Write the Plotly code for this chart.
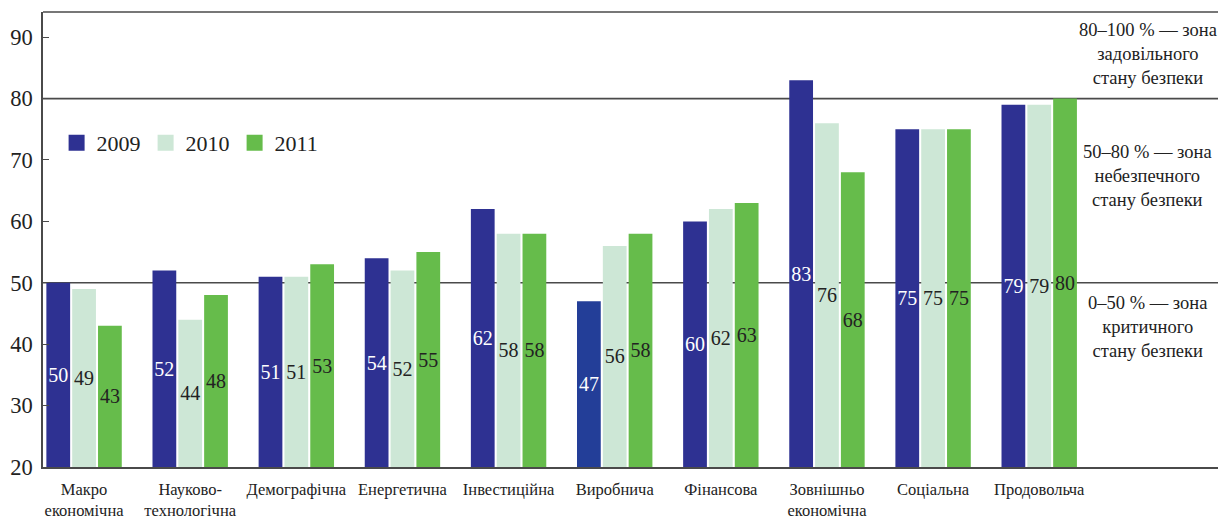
import plotly.graph_objects as go

categories = ["Макро<br>економічна", "Науково-<br>технологічна", "Демографічна", "Енергетична",
              "Інвестиційна", "Виробнича", "Фінансова", "Зовнішньо<br>економічна",
              "Соціальна", "Продовольча"]
years = ["2009", "2010", "2011"]
v2009 = [50, 52, 51, 54, 62, 47, 60, 83, 75, 79]
v2010 = [49, 44, 51, 52, 58, 56, 62, 76, 75, 79]
v2011 = [43, 48, 53, 55, 58, 58, 63, 68, 75, 80]
y_ticks = [20, 30, 40, 50, 60, 70, 80, 90]
zone_lines = [50, 80]
zone_texts = ["80–100 % — зона<br>задовільного<br>стану безпеки",
              "50–80 % — зона<br>небезпечного<br>стану безпеки",
              "0–50 % — зона<br>критичного<br>стану безпеки"]

FONT = "Liberation Serif"
c2009 = ["#2e3192"] * 10
c2009[5] = "#233e98"
colors = [c2009, "#cde7d6", "#66bc4b"]
legend_colors = ["#2e3192", "#cde7d6", "#66bc4b"]
text_colors = ["white", "#222222", "#222222"]

fig = go.Figure()
for yr, vals, col, tc in zip(years, [v2009, v2010, v2011], colors, text_colors):
    fig.add_trace(go.Bar(
        name=yr, x=list(range(len(categories))), y=[v - 20 for v in vals], base=20,
        marker=dict(color=col, line=dict(width=0)),
        text=[str(v) for v in vals], textposition="inside", insidetextanchor="middle",
        textangle=0, constraintext="none",
        textfont=dict(family=FONT, size=20, color=tc),
        hoverinfo="skip", showlegend=False,
    ))
# legend entries with larger square swatches
for yr, lc in zip(years, legend_colors):
    fig.add_trace(go.Scatter(
        name=yr, x=[None], y=[None], mode="markers",
        marker=dict(symbol="square", size=16, color=lc, line=dict(width=0)),
        hoverinfo="skip", showlegend=True,
    ))

shapes = []
for yv in zone_lines:
    shapes.append(dict(type="line", xref="paper", yref="y", x0=0, x1=1, y0=yv, y1=yv,
                       line=dict(color="#4a4a4a", width=1.6), layer="below"))
shapes.append(dict(type="line", xref="paper", yref="paper", x0=0, x1=1, y0=1, y1=1,
                   line=dict(color="#4a4a4a", width=1.6)))

annotations = []
for txt, yv in zip(zone_texts, [87.3, 67.4, 42.8]):
    annotations.append(dict(text=txt, xref="paper", yref="y", x=0.934, y=yv,
                            xanchor="center", yanchor="middle",
                            showarrow=False, align="center",
                            font=dict(family=FONT, size=18.5, color="#222222")))

fig.update_layout(
    width=1218, height=509,
    margin=dict(l=35, r=0, t=4, b=50, autoexpand=False),
    paper_bgcolor="white", plot_bgcolor="white",
    barmode="group", bargap=0.27, bargroupgap=0.08,
    font=dict(family=FONT, color="#222222"),
    shapes=shapes, annotations=annotations,
    showlegend=True,
    legend=dict(orientation="h", x=0.0115, y=0.712, xanchor="left", yanchor="middle",
                font=dict(family=FONT, size=22, color="#222222"),
                bgcolor="rgba(0,0,0,0)", itemwidth=30, tracegroupgap=0,
                itemsizing="trace"),
    xaxis=dict(range=[-0.387, 10.76], tickmode="array",
               tickvals=list(range(len(categories))), ticktext=categories,
               showgrid=False, zeroline=False, showline=True, linecolor="#4a4a4a",
               linewidth=1.6, ticks="", ticklabelstandoff=6, automargin=False,
               tickfont=dict(family=FONT, size=16.5, color="#222222")),
    yaxis=dict(range=[20, 94.1], tickmode="array", tickvals=y_ticks,
               showgrid=False, zeroline=False, showline=True, linecolor="#4a4a4a",
               linewidth=1.6, ticks="inside", ticklen=6, tickcolor="#4a4a4a",
               ticklabelstandoff=4, automargin=False,
               tickfont=dict(family=FONT, size=22.5, color="#222222")),
)

fig.write_html("out.html")
